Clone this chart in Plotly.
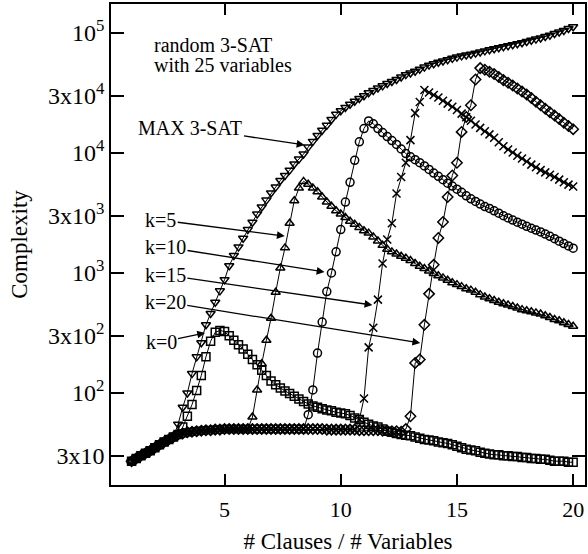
import plotly.graph_objects as go

# clause/variable ratio grid: 25 variables, 25..500 clauses in steps of 5
clauses = list(range(25, 505, 5))
ratio = [c / 25 for c in clauses]

# shared low-complexity regime (ratio 1.0 .. 13.0)
baseline = [
    27, 28.5, 30, 31.5, 33, 35, 37, 39, 41, 43,
    45, 46, 47, 47.5, 48, 48.5, 49, 49, 49.5, 49.5,
    50, 50, 50, 50, 50, 50, 50, 50, 50, 50,
    50, 50, 50, 50, 50, 50, 50, 50, 50, 50,
    50, 50, 49.5, 49.5, 49.5, 49.5, 49.5, 49.5, 49.5, 49,
    49, 49, 49, 49, 48.5, 48.5, 48, 48, 47.5, 47,
    46.5,
]

# MAX 3-SAT, ratio 3.0 .. 20.0
max3sat = [
    55, 76, 100, 145, 200,
    262, 370, 460, 570, 710,
    880, 1150, 1400, 1650, 1950,
    2300, 2650, 3100, 3550, 4050,
    4650, 5200, 5900, 6500, 7200,
    8100, 8900, 9800, 11200, 12500,
    14000, 15500, 17000, 19000, 21000,
    22500, 24000, 25500, 27000, 28500,
    30000, 31800, 33200, 34800, 36300,
    38000, 39500, 41000, 43000, 45000,
    46500, 48000, 50000, 52000, 54000,
    55500, 57000, 58500, 60000, 61500,
    63000, 64500, 65500, 66500, 68000,
    69500, 71000, 72500, 74000, 75500,
    77000, 78500, 80000, 81500, 83000,
    85000, 87000, 89000, 91000, 93500,
    96000, 99000, 102000, 105000, 109000,
    113000,
]

# k=0, ratio 3.2 .. 20.0
k0 = [
    52, 64, 80, 105,
    140, 200, 270, 320, 332,
    325, 300, 275, 252, 232,
    210, 190, 172, 155, 140,
    126, 117, 110, 104, 99,
    94, 89, 85, 81, 78,
    76, 74, 72, 71, 69,
    68, 67, 65, 62, 60,
    57, 55, 53, 52, 50,
    48, 47, 46, 45, 44.5,
    44, 43, 42, 41, 40.5,
    40, 39, 38.5, 38, 37,
    36, 35, 34, 33.5, 33,
    32, 31.5, 31, 30.5, 30.5,
    30, 30, 29.5, 29.5, 29,
    29, 28.5, 28.5, 28, 28,
    27.5, 27, 27, 27, 26.5,
    26.5,
]

# k=5, ratio 6.2 .. 20.0
k5 = [
    63, 106, 175, 275,
    420, 690, 1100, 1620, 2600,
    4000, 5100, 5800, 5500, 5100,
    4750, 4300, 3900, 3600, 3300,
    3100, 2900, 2700, 2550, 2400,
    2250, 2150, 2000, 1850, 1700,
    1580, 1500, 1440, 1380, 1330,
    1270, 1200, 1140, 1090, 1040,
    990, 950, 910, 870, 830,
    800, 770, 740, 720, 690,
    660, 630, 610, 590, 570,
    555, 540, 525, 510, 495,
    485, 475, 465, 455, 440,
    425, 410, 400, 385, 372,
    360,
]

# k=10, ratio 8.6 .. 20.0
k10 = [
    66, 106,
    215, 390, 700, 1000, 1500,
    2300, 3900, 5700, 8700, 12400,
    16000, 18500, 17500, 16000, 14800,
    13700, 12700, 11800, 10800, 9900,
    9300, 8800, 8300, 7800, 7300,
    6800, 6400, 6000, 5600, 5300,
    5000, 4700, 4400, 4150, 3950,
    3750, 3580, 3450, 3300, 3150,
    3000, 2880, 2760, 2650, 2550,
    2450, 2360, 2280, 2200, 2110,
    2020, 1930, 1840, 1760, 1680,
    1610,
]

# k=15, ratio 10.8 .. 20.0
k15 = [
    60,
    90, 240, 350, 600, 1200,
    1900, 2600, 4600, 6300, 8300,
    12800, 21500, 26600, 33500, 32000,
    30500, 29000, 27300, 25800, 24300,
    22800, 21300, 19900, 18600, 17300,
    16200, 15200, 14300, 13400, 12300,
    11400, 10700, 10100, 9500, 9000,
    8500, 8000, 7600, 7200, 6900,
    6600, 6300, 6000, 5700, 5450,
    5250,
]

# k=20, ratio 12.8 .. 20.0
k20 = [
    50,
    64, 178, 190, 370, 670,
    1170, 1960, 2660, 4300, 6500,
    8300, 15000, 20000, 25000, 41000,
    51000, 49500, 47500, 45500, 43000,
    40500, 38500, 36500, 34500, 32500,
    30800, 28800, 26800, 25000, 23400,
    21900, 20500, 19200, 17900, 16800,
    15800,
]

series = [
    ("MAX 3-SAT", baseline[:10] + max3sat, "triangle-down-open"),
    ("k=0", baseline[:11] + k0, "square-open"),
    ("k=5", baseline[:26] + k5, "triangle-up-open"),
    ("k=10", baseline[:38] + k10, "circle-open"),
    ("k=15", baseline[:49] + k15, "x-thin-open"),
    ("k=20", baseline[:59] + k20, "diamond-open"),
]

FONT = "Liberation Serif, Times New Roman, serif"

fig = go.Figure()
for name, ys, sym in series:
    fig.add_trace(go.Scatter(
        x=ratio[:len(ys)], y=ys, name=name, mode="lines+markers",
        line=dict(color="black", width=1),
        marker=dict(symbol=sym, size=8, color="black",
                    line=dict(color="black", width=1.5)),
        showlegend=False,
    ))

ytickvals = [30, 100, 300, 1000, 3000, 10000, 30000, 100000]
yticktext = ["3x10", "10<sup>2</sup>", "3x10<sup>2</sup>", "10<sup>3</sup>",
             "3x10<sup>3</sup>", "10<sup>4</sup>", "3x10<sup>4</sup>", "10<sup>5</sup>"]
xtickvals = [5, 10, 15, 20]

fig.update_layout(
    width=588, height=554,
    margin=dict(l=111, r=1, t=4, b=69),
    paper_bgcolor="white", plot_bgcolor="white",
    font=dict(family=FONT, color="black", size=20),
    xaxis=dict(
        range=[0.114, 20.51], tickvals=xtickvals,
        ticks="inside", ticklen=11, tickwidth=1.5, tickcolor="black",
        showline=True, linewidth=1.6, linecolor="black", mirror="allticks",
        showgrid=False, zeroline=False, ticklabelstandoff=4,
        tickfont=dict(family=FONT, size=22),
        title=dict(text="# Clauses / # Variables", font=dict(family=FONT, size=23), standoff=12),
    ),
    yaxis=dict(
        type="log", range=[1.233, 5.242],
        tickvals=ytickvals, ticktext=yticktext,
        ticks="inside", ticklen=13, tickwidth=1.5, tickcolor="black",
        showline=True, linewidth=1.6, linecolor="black", mirror="allticks",
        showgrid=False, zeroline=False,
        tickfont=dict(family=FONT, size=24),
        title=dict(text="Complexity", font=dict(family=FONT, size=23), standoff=14),
    ),
)

# plain text labels (paper coords)
labels = [
    ("random 3-SAT", 0.0861, 0.9148),
    ("with 25 variables", 0.0861, 0.8732),
]
for txt, xp, yp in labels:
    fig.add_annotation(text=txt, xref="paper", yref="paper", x=xp, y=yp,
                       xanchor="left", yanchor="middle", showarrow=False,
                       font=dict(family=FONT, size=20, color="black"))

# labelled arrows: tip in data coords (x, log10 y), label centre as pixel offset
arrows = [
    ("k=5", 7.59, 3.308, -124, -16),
    ("k=10", 9.30, 3.008, -159, -25),
    ("k=15", 11.36, 2.733, -207, -30),
    ("k=20", 13.42, 2.417, -255, -41),
    ("k=0", 4.16, 2.50, -44, 9),
    ("MAX 3-SAT", 8.44, 4.067, -114, -17),
]
for txt, x, y, ax, ay in arrows:
    fig.add_annotation(text=txt, x=x, y=y, xref="x", yref="y", ax=ax, ay=ay,
                       xanchor="center", yanchor="middle",
                       showarrow=True, arrowhead=2, arrowsize=1.2, arrowwidth=1.3,
                       arrowcolor="black", standoff=0, startstandoff=0,
                       font=dict(family=FONT, size=20, color="black"))

fig.write_html("out.html")
